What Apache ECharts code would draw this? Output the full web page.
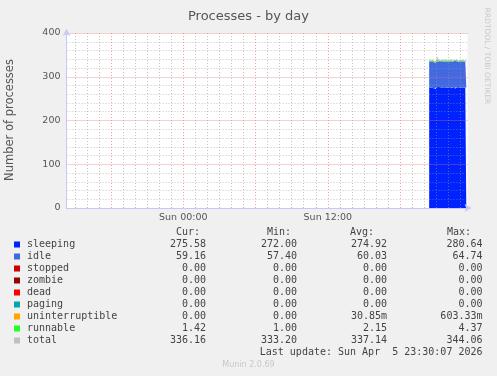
<!DOCTYPE html>
<html>
<head>
<meta charset="utf-8">
<title>Processes - by day</title>
<script src="https://cdn.jsdelivr.net/npm/echarts@6/dist/echarts.min.js"></script>
<style>
body{
margin:0;
background:#f0f0f0;
}
#chart{
width:497px;
height:376px;
}
</style>
</head>
<body>

<div id="chart"></div>

<script>

// sample times (Sun Apr 5, 5 min steps)
const times=["20:25","20:30","20:35","20:40","20:45","20:50","20:55","21:00","21:05","21:10",
"21:15","21:20","21:25","21:30","21:35","21:40","21:45","21:50","21:55","22:00",
"22:05","22:10","22:15","22:20","22:25","22:30","22:35","22:40","22:45","22:50",
"22:55","23:00","23:05","23:10","23:15","23:20","23:25","23:30"]

const sleeping=[274.2,273.5,275.1,276.3,274.8,273.9,272.0,273.4,275.6,280.64,
277.2,275.0,274.1,273.6,274.9,275.8,274.3,273.2,274.6,276.1,
275.3,274.0,273.8,274.7,275.9,274.5,273.1,274.2,276.4,275.1,
274.4,273.7,274.9,275.2,274.6,273.9,274.8,275.58]

const idle=[60.8,61.5,59.7,58.6,60.2,61.0,60.2,62.0,59.4,58.45,
58.3,60.1,61.2,61.6,60.0,59.2,60.6,61.8,60.4,57.4,
59.6,60.9,61.3,60.3,59.1,60.5,64.74,62.4,58.7,59.8,
60.4,61.1,59.9,59.5,60.2,60.9,60.1,59.16]

const uninterruptible=[0,0,0,0,0,0,0,0,0,0.60,
0,0,0,0,0,0,0,0,0,0,
0,0,0,0,0,0,0.57,0,0,0,
0,0,0,0,0,0,0,0]

const runnable=[2.1,1.8,2.6,1.4,2.3,3.1,1.0,2.2,1.9,4.37,
2.5,1.6,2.0,2.8,1.7,2.4,1.5,2.9,1.9,2.2,
1.3,3.4,2.0,1.8,2.7,1.6,2.3,1.9,2.5,1.2,
2.6,2.0,1.7,3.0,2.1,1.5,2.4,1.42]

const total=[337.1,336.8,337.4,336.3,337.3,338.0,333.2,337.6,336.9,344.06,
338.0,336.7,337.3,338.0,336.6,337.4,336.4,337.9,336.9,335.7,
336.2,338.3,337.1,336.8,337.7,336.6,340.71,338.5,337.6,336.1,
337.4,336.8,336.5,337.7,336.9,336.3,337.3,336.16]

// legend table
const names=["sleeping","idle","stopped","zombie","dead","paging","uninterruptible","runnable","total"]
const colors=["#0022ff","#4169e1","#cc0000","#990000","#ff0000","#00aaaa","#ffa500","#22ff22","#c0c0c0"]
const curVals=["275.58","59.16","0.00","0.00","0.00","0.00","0.00","1.42","336.16"]
const minVals=["272.00","57.40","0.00","0.00","0.00","0.00","0.00","1.00","333.20"]
const avgVals=["274.92","60.03","0.00","0.00","0.00","0.00","30.85m","2.15","337.14"]
const maxVals=["280.64","64.74","0.00","0.00","0.00","0.00","603.33m","4.37","344.06"]

// x range and ticks, hours relative to Sun 00:00
const rangeHours=[-9.7,23.6]
const gridHours=[-9,23]   // first and last hourly grid line
const labelTicks=[0,12]
const labelText={0:"Sun 00:00",12:"Sun 12:00"}

const HOUR=3600000
const base=Date.UTC(2026,3,5,0,0)

function toTime(s){
const p=s.split(":")
return base+(+p[0])*HOUR+(+p[1])*60000
}

function pairs(arr){
return arr.map((v,i)=>[toTime(times[i]),v])
}

// plot box
const W=497
const plotLeft=66.5
const plotRight=467.5
const plotTop=33
const plotBottom=168
function hx(h){
return plotLeft+(h-rangeHours[0])/(rangeHours[1]-rangeHours[0])*(plotRight-plotLeft)
}

const mono="DejaVu Sans Mono"
const sans="DejaVu Sans"
const txt="#444"

const graphics=[]

graphics.push({type:"text",x:10,y:120,rotation:Math.PI/2,
style:{text:"Number of processes",font:"11.5px "+sans,fill:"#555",textAlign:"center",textVerticalAlign:"middle"}})

graphics.push({type:"text",x:486.5,y:56,rotation:-Math.PI/2,
style:{text:"RRDTOOL / TOBI OETIKER",font:"7.5px "+sans,fill:"#c8c8c8",textAlign:"center",textVerticalAlign:"middle"}})

const heads=[["Cur:",176],["Min:",267],["Avg:",350],["Max:",447]]
heads.forEach(h=>{
graphics.push({type:"text",x:h[1],y:232.5,style:{text:h[0],font:"10px "+mono,fill:txt,textVerticalAlign:"middle"}})
})

names.forEach((n,k)=>{
const y=244.5+12*k
graphics.push({type:"rect",shape:{x:14,y:y-3,width:6,height:6},style:{fill:colors[k]}})
graphics.push({type:"text",x:27,y:y,style:{text:n,font:"10px "+mono,fill:txt,textVerticalAlign:"middle"}})
graphics.push({type:"text",x:206,y:y,style:{text:curVals[k],font:"10px "+mono,fill:txt,textAlign:"right",textVerticalAlign:"middle"}})
graphics.push({type:"text",x:297,y:y,style:{text:minVals[k],font:"10px "+mono,fill:txt,textAlign:"right",textVerticalAlign:"middle"}})
graphics.push({type:"text",x:387,y:y,style:{text:avgVals[k],font:"10px "+mono,fill:txt,textAlign:"right",textVerticalAlign:"middle"}})
graphics.push({type:"text",x:482.5,y:y,style:{text:maxVals[k],font:"10px "+mono,fill:txt,textAlign:"right",textVerticalAlign:"middle"}})
})

graphics.push({type:"text",x:482.5,y:352.5,style:{text:"Last update: Sun Apr  5 23:30:07 2026",font:"10px "+mono,fill:txt,textAlign:"right",textVerticalAlign:"middle"}})
graphics.push({type:"text",x:248.5,y:365,style:{text:"Munin 2.0.69",font:"8px "+sans,fill:"#c8c8c8",textAlign:"center",textVerticalAlign:"middle"}})

const minorGrid="rgba(150,150,150,0.55)"
const majorGrid="rgba(230,110,110,0.65)"
// hourly lines starting at -9h: every 6th one (-6, 0, 6, ...) is red
const vGridColors=[minorGrid,minorGrid,minorGrid,majorGrid,minorGrid,minorGrid]

const chart=echarts.init(document.getElementById("chart"),null,{renderer:"canvas"})

chart.setOption({
animation:false,
backgroundColor:"#f0f0f0",
title:{
text:"Processes - by day",
left:"center",
top:5,
textStyle:{fontFamily:sans,fontSize:13,fontWeight:"normal",color:"#555"}
},
grid:[{
left:plotLeft,top:plotTop,right:W-plotRight,bottom:plotBottom,
show:true,backgroundColor:"#ffffff",borderWidth:0
},{
left:hx(gridHours[0]),top:plotTop,right:W-hx(gridHours[1]),bottom:plotBottom,
show:false
}],
xAxis:[{
type:"time",gridIndex:0,min:base+rangeHours[0]*HOUR,max:base+rangeHours[1]*HOUR,z:6,
axisLine:{show:true,onZero:false,lineStyle:{color:"#c8c8f4",width:1},symbol:["none","arrow"],symbolSize:[6,7],symbolOffset:[0,4]},
axisTick:{show:false},
axisLabel:{show:false},
splitLine:{show:false}
},{
type:"value",gridIndex:0,min:rangeHours[0],max:rangeHours[1],position:"bottom",z:5,
axisLine:{show:false,onZero:false},
axisTick:{show:false},
axisLabel:{customValues:labelTicks,formatter:v=>labelText[Math.round(v)]||"",fontFamily:sans,fontSize:9.5,color:"#555",margin:5},
splitLine:{show:false}
},{
type:"value",gridIndex:1,min:gridHours[0],max:gridHours[1],interval:1,z:5,
axisLine:{show:false,onZero:false},
axisTick:{show:false},
axisLabel:{show:false},
splitLine:{show:true,lineStyle:{color:vGridColors,type:[1,2],width:1}}
}],
yAxis:[{
type:"value",gridIndex:0,min:0,max:400,interval:100,z:5,
axisLine:{show:true,onZero:false,lineStyle:{color:"#c8c8f4",width:1},symbol:["none","arrow"],symbolSize:[6,7],symbolOffset:[0,4]},
axisTick:{show:false},
minorTick:{show:false,splitNumber:5},
axisLabel:{fontFamily:sans,fontSize:9.5,color:"#555",margin:6},
splitLine:{show:true,lineStyle:{color:majorGrid,type:[1,1],width:1}},
minorSplitLine:{show:true,lineStyle:{color:minorGrid,type:[1,2],width:1}}
},{
type:"value",gridIndex:1,min:0,max:400,show:false
}],
graphic:graphics,
series:[
{name:"sleeping",type:"line",stack:"p",step:"start",symbol:"none",data:pairs(sleeping),
lineStyle:{width:0},areaStyle:{color:colors[0],opacity:1},color:colors[0]},
{name:"idle",type:"line",stack:"p",step:"start",symbol:"none",data:pairs(idle),
lineStyle:{width:0},areaStyle:{color:colors[1],opacity:1},color:colors[1]},
{name:"uninterruptible",type:"line",stack:"p",step:"start",symbol:"none",data:pairs(uninterruptible),
lineStyle:{width:0},areaStyle:{color:colors[6],opacity:1},color:colors[6]},
{name:"runnable",type:"line",stack:"p",step:"start",symbol:"none",data:pairs(runnable),
lineStyle:{width:0},areaStyle:{color:colors[7],opacity:1},color:colors[7]},
{name:"total",type:"line",step:"start",symbol:"none",data:pairs(total),
lineStyle:{width:1,color:colors[8]},color:colors[8]}
]
})

</script>

</body>
</html>
